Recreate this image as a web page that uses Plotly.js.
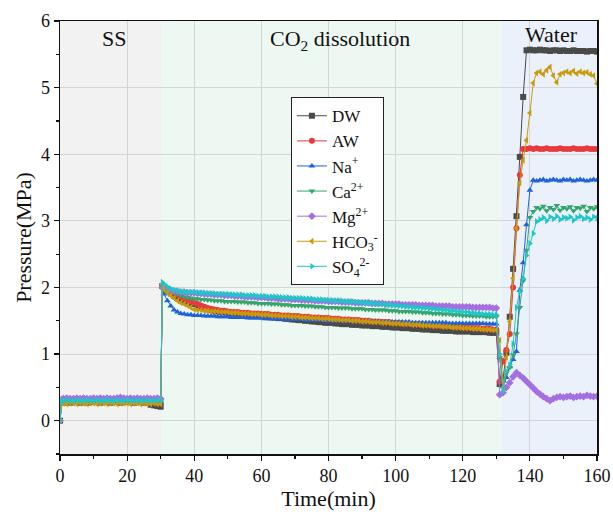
<!DOCTYPE html>
<html>
<head>
<meta charset="utf-8">
<script src="https://cdn.plot.ly/plotly-3.0.1.min.js"></script>
<style>html,body{margin:0;padding:0;background:#fff;}#chart{width:613px;height:521px;}</style>
</head>
<body>
<div id="chart"></div>
<script>
// Sample times (min)
const time = [0,0.5,
1,2,3,4,5,6,7,8,9,10,11,12,13,14,15,16,17,18,19,20,21,22,23,24,25,26,27,28,29,30,
30.5,
31,32,33,34,35,36,37,38,39,40,41,42,43,44,45,46,47,48,49,50,
51,52,53,54,55,56,57,58,59,60,61,62,63,64,65,66,67,68,69,70,
71,72,73,74,75,76,77,78,79,80,81,82,83,84,85,86,87,88,89,90,
91,92,93,94,95,96,97,98,99,100,101,102,103,104,105,106,107,108,109,110,
111,112,113,114,115,116,117,118,119,120,121,122,123,124,125,126,127,128,129,130,
131,132,133,134,135,136,137,138,139,140,141,142,143,144,145,146,147,148,149,150,
151,152,153,154,155,156,157,158,159,160];

const seriesNames = ['DW','AW','Na<sup>+</sup>','Ca<sup>2+</sup>','Mg<sup>2+</sup>','HCO<sub>3</sub><sup>-</sup>','SO<sub>4</sub><sup>2-</sup>'];

const DW = [0,0.28,
0.27,0.28,0.27,0.28,0.28,0.27,0.28,0.27,0.28,0.28, 0.28,0.27,0.28,0.28,0.27,0.28,0.28,0.27,0.28,0.28, 0.28,0.27,0.28,0.28,0.27,0.28,0.24,0.23,0.22,0.21,
2.02,
1.99,1.95,1.91,1.87,1.84,1.81,1.79,1.78,1.77,1.75, 1.73,1.71,1.69,1.67,1.66,1.65,1.64,1.63,1.63,1.62,
1.61,1.61,1.60,1.60,1.59,1.59,1.58,1.58,1.57,1.57, 1.56,1.56,1.55,1.55,1.54,1.54,1.53,1.53,1.52,1.52,
1.51,1.51,1.50,1.50,1.49,1.49,1.48,1.48,1.47,1.47, 1.47,1.46,1.46,1.45,1.45,1.45,1.44,1.44,1.44,1.43,
1.43,1.43,1.42,1.42,1.42,1.41,1.41,1.41,1.40,1.40, 1.40,1.39,1.39,1.39,1.38,1.38,1.38,1.37,1.37,1.37,
1.36,1.36,1.36,1.35,1.35,1.35,1.35,1.34,1.34,1.34, 1.34,1.34,1.33,1.33,1.33,1.33,1.33,1.32,1.32,1.32,
0.55,0.62,1.02,1.56,2.28,3.07,3.96,4.86,5.56,5.57,
5.56,5.56,5.57,5.56,5.56,5.55,5.56,5.56,5.55,5.56,
5.55,5.55,5.56,5.55,5.55,5.55,5.54,5.55,5.55,5.54];

const AW = [0,0.29,
0.29,0.28,0.29,0.29,0.28,0.29,0.29,0.28,0.29,0.29, 0.29,0.28,0.29,0.29,0.29,0.28,0.29,0.29,0.28,0.29, 0.29,0.28,0.29,0.29,0.28,0.29,0.28,0.27,0.27,0.27,
2.03,
2.01,1.98,1.95,1.92,1.89,1.86,1.83,1.81,1.79,1.77, 1.75,1.73,1.71,1.69,1.68,1.67,1.66,1.65,1.65,1.64,
1.63,1.63,1.63,1.62,1.62,1.62,1.61,1.61,1.61,1.60, 1.60,1.60,1.59,1.59,1.59,1.58,1.58,1.58,1.57,1.57,
1.57,1.56,1.56,1.56,1.55,1.55,1.55,1.54,1.54,1.54, 1.53,1.53,1.53,1.52,1.52,1.52,1.51,1.51,1.51,1.50,
1.50,1.50,1.49,1.49,1.49,1.48,1.48,1.48,1.47,1.47, 1.47,1.46,1.46,1.46,1.45,1.45,1.45,1.44,1.44,1.44,
1.43,1.43,1.43,1.42,1.42,1.42,1.41,1.41,1.41,1.40, 1.40,1.40,1.39,1.39,1.39,1.38,1.38,1.38,1.37,1.37,
0.59,0.89,1.06,1.30,2.00,2.89,3.69,4.08,4.08,4.09,
4.08,4.09,4.08,4.08,4.09,4.08,4.08,4.08,4.09,4.08,
4.08,4.08,4.09,4.08,4.08,4.08,4.09,4.08,4.08,4.08];

const Na = [0,0.28,
0.28,0.27,0.28,0.28,0.27,0.28,0.28,0.28,0.27,0.28, 0.28,0.28,0.27,0.28,0.28,0.28,0.27,0.28,0.28,0.28, 0.27,0.28,0.28,0.27,0.28,0.28,0.27,0.26,0.26,0.26,
2.01,
1.90,1.80,1.72,1.66,1.63,1.61,1.60,1.59,1.59,1.58, 1.58,1.58,1.57,1.57,1.57,1.57,1.56,1.56,1.56,1.56,
1.55,1.55,1.55,1.55,1.55,1.54,1.54,1.54,1.54,1.54, 1.53,1.53,1.53,1.53,1.53,1.53,1.52,1.52,1.52,1.52,
1.52,1.52,1.51,1.51,1.51,1.51,1.51,1.51,1.50,1.50, 1.50,1.50,1.50,1.50,1.50,1.49,1.49,1.49,1.49,1.49,
1.49,1.49,1.49,1.49,1.48,1.48,1.48,1.48,1.48,1.48, 1.48,1.48,1.48,1.48,1.47,1.47,1.47,1.47,1.47,1.47,
1.47,1.47,1.47,1.47,1.47,1.46,1.46,1.46,1.46,1.46, 1.46,1.46,1.46,1.46,1.46,1.46,1.45,1.45,1.45,1.45,
0.95,0.51,0.65,0.81,0.92,1.04,1.96,2.37,2.94,3.46,
3.61,3.60,3.61,3.62,3.60,3.61,3.62,3.61,3.60,3.62,
3.61,3.62,3.60,3.61,3.62,3.61,3.60,3.61,3.62,3.61];

const Ca = [0,0.29,
0.29,0.30,0.29,0.29,0.30,0.29,0.29,0.30,0.29,0.29, 0.30,0.29,0.29,0.30,0.29,0.29,0.30,0.29,0.29,0.30, 0.29,0.29,0.30,0.29,0.29,0.30,0.29,0.29,0.30,0.29,
2.04,
2.00,1.97,1.94,1.92,1.90,1.88,1.86,1.85,1.84,1.83, 1.83,1.82,1.82,1.81,1.81,1.80,1.80,1.80,1.79,1.79,
1.79,1.79,1.78,1.78,1.78,1.77,1.77,1.77,1.76,1.76, 1.76,1.76,1.75,1.75,1.75,1.74,1.74,1.74,1.73,1.73,
1.73,1.73,1.72,1.72,1.72,1.71,1.71,1.71,1.70,1.70, 1.70,1.70,1.69,1.69,1.69,1.69,1.68,1.68,1.68,1.68,
1.67,1.67,1.67,1.66,1.66,1.66,1.66,1.65,1.65,1.65, 1.64,1.64,1.64,1.64,1.63,1.63,1.63,1.62,1.62,1.62,
1.61,1.61,1.61,1.60,1.60,1.60,1.59,1.59,1.59,1.58, 1.58,1.58,1.57,1.57,1.57,1.57,1.56,1.56,1.56,1.56,
0.95,0.60,0.72,0.80,0.99,1.30,1.70,2.10,2.56,3.05,
3.14,3.20,3.18,3.22,3.15,3.20,3.17,3.23,3.16,3.20,
3.18,3.21,3.15,3.20,3.19,3.22,3.14,3.20,3.18,3.21];

const Mg = [0,0.32,
0.33,0.34,0.33,0.33,0.34,0.33,0.34,0.33,0.33,0.34, 0.33,0.34,0.33,0.34,0.33,0.33,0.34,0.35,0.34,0.33, 0.34,0.33,0.34,0.33,0.33,0.34,0.33,0.33,0.34,0.33,
2.00,
1.99,1.97,1.96,1.95,1.94,1.93,1.93,1.92,1.92,1.92, 1.91,1.91,1.90,1.90,1.90,1.89,1.89,1.89,1.88,1.88,
1.88,1.87,1.87,1.87,1.86,1.86,1.86,1.86,1.85,1.85, 1.85,1.84,1.84,1.84,1.83,1.83,1.83,1.83,1.82,1.82,
1.82,1.81,1.81,1.81,1.81,1.80,1.80,1.80,1.80,1.79, 1.79,1.79,1.79,1.78,1.78,1.78,1.78,1.77,1.77,1.77,
1.77,1.77,1.76,1.76,1.76,1.76,1.75,1.75,1.75,1.75, 1.75,1.74,1.74,1.74,1.74,1.74,1.73,1.73,1.73,1.73,
1.73,1.72,1.72,1.72,1.72,1.72,1.71,1.71,1.71,1.71, 1.71,1.71,1.70,1.70,1.70,1.70,1.70,1.70,1.69,1.69,
0.39,0.42,0.50,0.57,0.66,0.72,0.68,0.64,0.59,0.54,
0.49,0.44,0.40,0.36,0.33,0.30,0.33,0.35,0.36,0.35,
0.36,0.37,0.35,0.36,0.37,0.36,0.38,0.37,0.36,0.37];

const HCO3 = [0,0.26,
0.26,0.25,0.26,0.26,0.25,0.26,0.26,0.25,0.26,0.26, 0.25,0.26,0.26,0.25,0.26,0.26,0.25,0.26,0.26,0.26, 0.25,0.26,0.26,0.25,0.26,0.26,0.25,0.26,0.25,0.25,
2.05,
1.97,1.92,1.88,1.84,1.80,1.77,1.75,1.73,1.70,1.67, 1.66,1.66,1.65,1.65,1.64,1.64,1.64,1.63,1.63,1.63,
1.62,1.62,1.62,1.61,1.61,1.61,1.60,1.60,1.60,1.59, 1.59,1.59,1.58,1.58,1.58,1.57,1.57,1.57,1.56,1.56,
1.56,1.55,1.55,1.55,1.54,1.54,1.54,1.53,1.53,1.53, 1.52,1.52,1.52,1.51,1.51,1.51,1.50,1.50,1.50,1.49,
1.49,1.49,1.48,1.48,1.48,1.47,1.47,1.47,1.46,1.46, 1.46,1.45,1.45,1.45,1.44,1.44,1.44,1.43,1.43,1.43,
1.42,1.42,1.42,1.41,1.41,1.41,1.40,1.40,1.40,1.39, 1.39,1.39,1.38,1.38,1.38,1.37,1.37,1.37,1.36,1.36,
1.21,0.50,0.95,1.49,2.14,2.89,3.57,3.91,4.21,4.62,
5.07,5.22,5.24,5.20,5.26,5.31,5.18,5.08,5.20,5.22,
5.24,5.22,5.25,5.21,5.24,5.22,5.23,5.20,5.18,5.06];

const SO4 = [0,0.30,
0.30,0.31,0.30,0.30,0.31,0.30,0.30,0.31,0.30,0.30, 0.31,0.30,0.30,0.31,0.30,0.30,0.31,0.30,0.30,0.31, 0.30,0.30,0.31,0.30,0.30,0.31,0.30,0.30,0.31,0.30,
2.08,
2.05,2.01,1.98,1.96,1.95,1.94,1.94,1.93,1.93,1.93, 1.92,1.92,1.92,1.91,1.91,1.91,1.90,1.90,1.90,1.90,
1.89,1.89,1.89,1.89,1.88,1.88,1.88,1.88,1.87,1.87, 1.87,1.86,1.86,1.86,1.86,1.85,1.85,1.85,1.84,1.84,
1.84,1.84,1.83,1.83,1.83,1.82,1.82,1.82,1.81,1.81, 1.81,1.80,1.80,1.80,1.79,1.79,1.79,1.78,1.78,1.77,
1.77,1.77,1.76,1.76,1.75,1.75,1.74,1.74,1.73,1.73, 1.72,1.72,1.71,1.71,1.70,1.70,1.70,1.69,1.69,1.68,
1.68,1.67,1.67,1.66,1.66,1.65,1.65,1.64,1.64,1.63, 1.63,1.62,1.62,1.61,1.61,1.60,1.60,1.60,1.59,1.59,
1.00,0.45,0.74,0.84,1.15,1.70,1.94,2.14,2.48,2.66,
2.81,2.99,3.02,3.05,3.00,3.06,3.03,3.07,3.02,3.05,
3.04,3.06,3.01,3.05,3.07,3.03,3.05,3.02,3.06,3.04];

const seriesValues = [DW, AW, Na, Ca, Mg, HCO3, SO4];

// Phase regions (start, end in min) and labels
const phaseStart = [0, 30.5, 131.5];
const phaseEnd = [30.5, 131.5, 160];
const phaseLabels = ['SS', 'CO<sub>2</sub> dissolution', 'Water'];
const phaseLabelX = [16, 83.5, 146.5];
const phaseLabelY = [5.73, 5.71, 5.79];

// styling
const colors = ['#4a4a4a','#e8393e','#1f62d8','#35a56c','#a46fe0','#c99b0c','#1fc6c8'];
const symbols = ['square','circle','triangle-up','triangle-down','diamond','triangle-left','triangle-right'];
const fills = ['#f2f2f2','#eef8f2','#ebf1fb'];

const FONT = 'Liberation Serif, Times New Roman, serif';

const traces = seriesNames.map((n, i) => ({
  x: time, y: seriesValues[i], name: n, type: 'scatter', mode: 'lines+markers',
  line: {color: colors[i], width: 1},
  marker: {color: colors[i], symbol: symbols[i], size: 6}
}));

const shapes = phaseStart.map((s, i) => ({
  type: 'rect', xref: 'x', yref: 'paper', x0: s, x1: phaseEnd[i], y0: 0, y1: 1,
  fillcolor: fills[i], line: {width: 0}, layer: 'below'
}));

const annotations = phaseLabels.map((t, i) => ({
  x: phaseLabelX[i], y: phaseLabelY[i], xref: 'x', yref: 'y', text: t, showarrow: false,
  font: {family: FONT, size: 22, color: '#111'}
}));

const axisCommon = {
  showline: true, linecolor: '#111', linewidth: 1.5, mirror: true,
  ticks: 'outside', ticklen: 5, tickwidth: 1.2, tickcolor: '#111',
  showgrid: true, gridcolor: '#d4d4d4', gridwidth: 1, zeroline: false,
  tickfont: {family: FONT, size: 18, color: '#111'}
};

const layout = {
  width: 613, height: 521,
  margin: {l: 60, r: 16, t: 21, b: 67},
  paper_bgcolor: '#fff', plot_bgcolor: '#fff',
  showlegend: true,
  xaxis: Object.assign({}, axisCommon, {
    range: [0, 160], dtick: 20, tick0: 0,
    minor: {ticks: 'outside', dtick: 10, ticklen: 3, tickcolor: '#111', showgrid: false},
    title: {text: 'Time(min)', font: {family: FONT, size: 22, color: '#111'}, standoff: 2}
  }),
  yaxis: Object.assign({}, axisCommon, {
    range: [-0.5, 6], dtick: 1, tick0: 0,
    minor: {ticks: 'outside', dtick: 0.5, ticklen: 3, tickcolor: '#111', showgrid: false},
    title: {text: 'Pressure(MPa)', font: {family: FONT, size: 22, color: '#111'}, standoff: 3}
  }),
  legend: {
    x: 0.43, y: 0.824, xanchor: 'left', yanchor: 'top',
    bgcolor: '#fff', bordercolor: '#222', borderwidth: 1,
    font: {family: FONT, size: 17, color: '#111'}
  },
  shapes: shapes,
  annotations: annotations
};

Plotly.newPlot('chart', traces, layout, {displayModeBar: false, staticPlot: true});
</script>
</body>
</html>
